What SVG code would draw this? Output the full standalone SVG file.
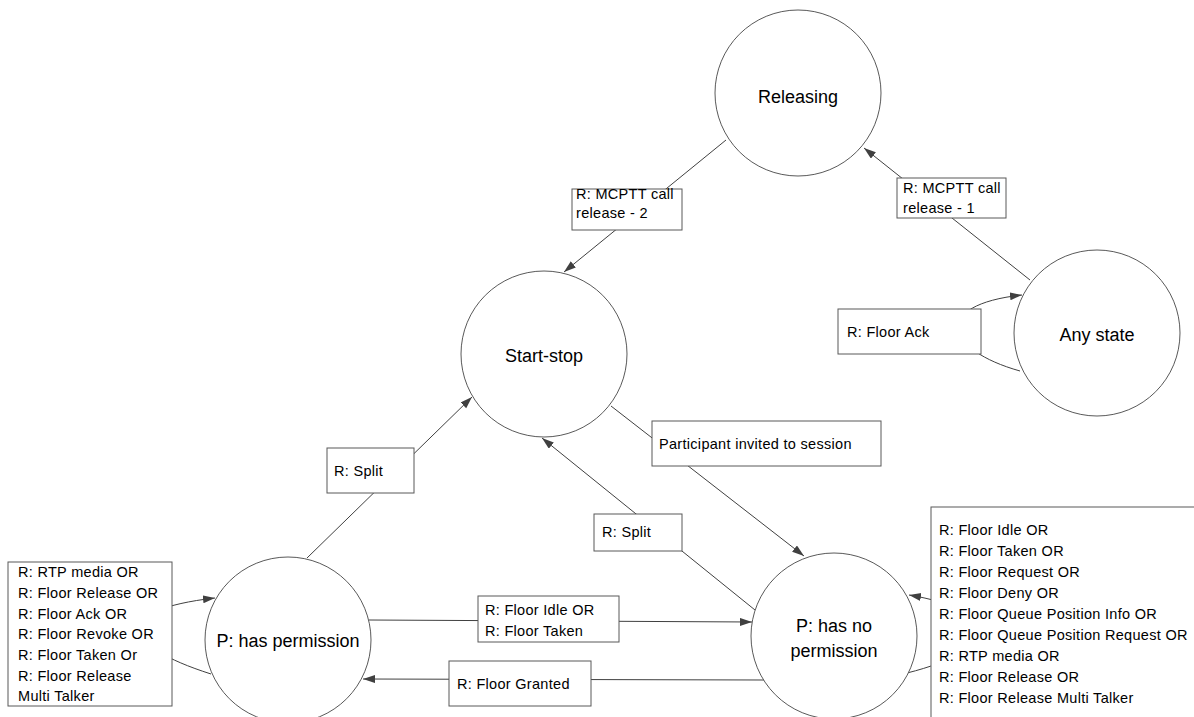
<svg xmlns="http://www.w3.org/2000/svg" width="1194" height="717" viewBox="0 0 1194 717">
<defs>
<marker id="arr" markerUnits="userSpaceOnUse" markerWidth="14" markerHeight="10" refX="12" refY="4" orient="auto">
<path d="M0,0 L12,4 L0,8 z" fill="#404040"/>
</marker>
<style>
.edge{fill:none;stroke:#404040;stroke-width:1}
.lbl{fill:#fff;stroke:#595959;stroke-width:1}
.node{fill:#fff;stroke:#595959;stroke-width:1}
.lt{font-family:"Liberation Sans",Arial,sans-serif;font-size:14.5px;letter-spacing:0.3px;fill:#000}
.nt{font-family:"Liberation Sans",Arial,sans-serif;font-size:18px;fill:#000;text-anchor:middle}
</style>
</defs>
<rect width="1194" height="717" fill="#fff"/>
<g id="connectors">
<line class="edge" x1="726" y1="140" x2="564" y2="272" marker-end="url(#arr)"/>
<line class="edge" x1="1030" y1="280" x2="864" y2="148" marker-end="url(#arr)"/>
<path class="edge" d="M1020,371 C945,350 930,305 1022,295" marker-end="url(#arr)"/>
<line class="edge" x1="611" y1="406" x2="804" y2="556" marker-end="url(#arr)"/>
<line class="edge" x1="755" y1="610" x2="542" y2="438" marker-end="url(#arr)"/>
<line class="edge" x1="307" y1="558" x2="472" y2="397" marker-end="url(#arr)"/>
<line class="edge" x1="369" y1="620" x2="752" y2="622" marker-end="url(#arr)"/>
<line class="edge" x1="764" y1="680" x2="363" y2="679" marker-end="url(#arr)"/>
<path class="edge" d="M211,674 C120,645 110,610 215,598" marker-end="url(#arr)"/>
<path class="edge" d="M907,673 C1000,650 1000,610 909,595" marker-end="url(#arr)"/>
<g id="label-release-2">
<rect class="lbl" x="572" y="189" width="110" height="41"/>
<text class="lt" x="576" y="199">R: MCPTT call</text>
<text class="lt" x="576" y="218">release - 2</text>
</g>
<g id="label-release-1">
<rect class="lbl" x="897" y="178" width="109" height="40"/>
<text class="lt" x="903" y="193">R: MCPTT call</text>
<text class="lt" x="903" y="213">release - 1</text>
</g>
<g id="label-floor-ack">
<rect class="lbl" x="838" y="309" width="143" height="45"/>
<text class="lt" x="847" y="337">R: Floor Ack</text>
</g>
<g id="label-invited">
<rect class="lbl" x="652" y="421" width="229" height="45"/>
<text class="lt" x="659" y="449">Participant invited to session</text>
</g>
<g id="label-split-left">
<rect class="lbl" x="327" y="448" width="87" height="45"/>
<text class="lt" x="334" y="476">R: Split</text>
</g>
<g id="label-split-right">
<rect class="lbl" x="594" y="514" width="88" height="37"/>
<text class="lt" x="602" y="537">R: Split</text>
</g>
<g id="label-idle-taken">
<rect class="lbl" x="478" y="596" width="141" height="46"/>
<text class="lt" x="485" y="615">R: Floor Idle OR</text>
<text class="lt" x="485" y="636">R: Floor Taken</text>
</g>
<g id="label-granted">
<rect class="lbl" x="449" y="661" width="142" height="45"/>
<text class="lt" x="457" y="689">R: Floor Granted</text>
</g>
<g id="label-loop-left">
<rect class="lbl" x="8" y="562" width="164" height="144"/>
<text class="lt" x="18" y="577">R: RTP media OR</text>
<text class="lt" x="18" y="598">R: Floor Release OR</text>
<text class="lt" x="18" y="619">R: Floor Ack OR</text>
<text class="lt" x="18" y="639">R: Floor Revoke OR</text>
<text class="lt" x="18" y="660">R: Floor Taken Or</text>
<text class="lt" x="18" y="681">R: Floor Release</text>
<text class="lt" x="18" y="701">Multi Talker</text>
</g>
<g id="label-loop-right">
<rect class="lbl" x="931" y="507" width="280" height="230"/>
<text class="lt" x="939" y="535">R: Floor Idle OR</text>
<text class="lt" x="939" y="556">R: Floor Taken OR</text>
<text class="lt" x="939" y="577">R: Floor Request OR</text>
<text class="lt" x="939" y="598">R: Floor Deny OR</text>
<text class="lt" x="939" y="619">R: Floor Queue Position Info OR</text>
<text class="lt" x="939" y="640">R: Floor Queue Position Request OR</text>
<text class="lt" x="939" y="661">R: RTP media OR</text>
<text class="lt" x="939" y="682">R: Floor Release OR</text>
<text class="lt" x="939" y="703">R: Floor Release Multi Talker</text>
</g>
</g>
<g id="releasing">
<circle class="node" cx="798" cy="93" r="83"/>
<text class="nt" x="798" y="103">Releasing</text>
</g>
<g id="start-stop">
<circle class="node" cx="544" cy="354" r="83"/>
<text class="nt" x="544" y="362">Start-stop</text>
</g>
<g id="any-state">
<circle class="node" cx="1097" cy="333" r="83"/>
<text class="nt" x="1097" y="341">Any state</text>
</g>
<g id="has-permission">
<circle class="node" cx="288" cy="640" r="83"/>
<text class="nt" x="288" y="647">P: has permission</text>
</g>
<g id="has-no-permission">
<circle class="node" cx="834" cy="636" r="83"/>
<text class="nt" x="834" y="632">P: has no</text>
<text class="nt" x="834" y="657">permission</text>
</g>
</svg>
